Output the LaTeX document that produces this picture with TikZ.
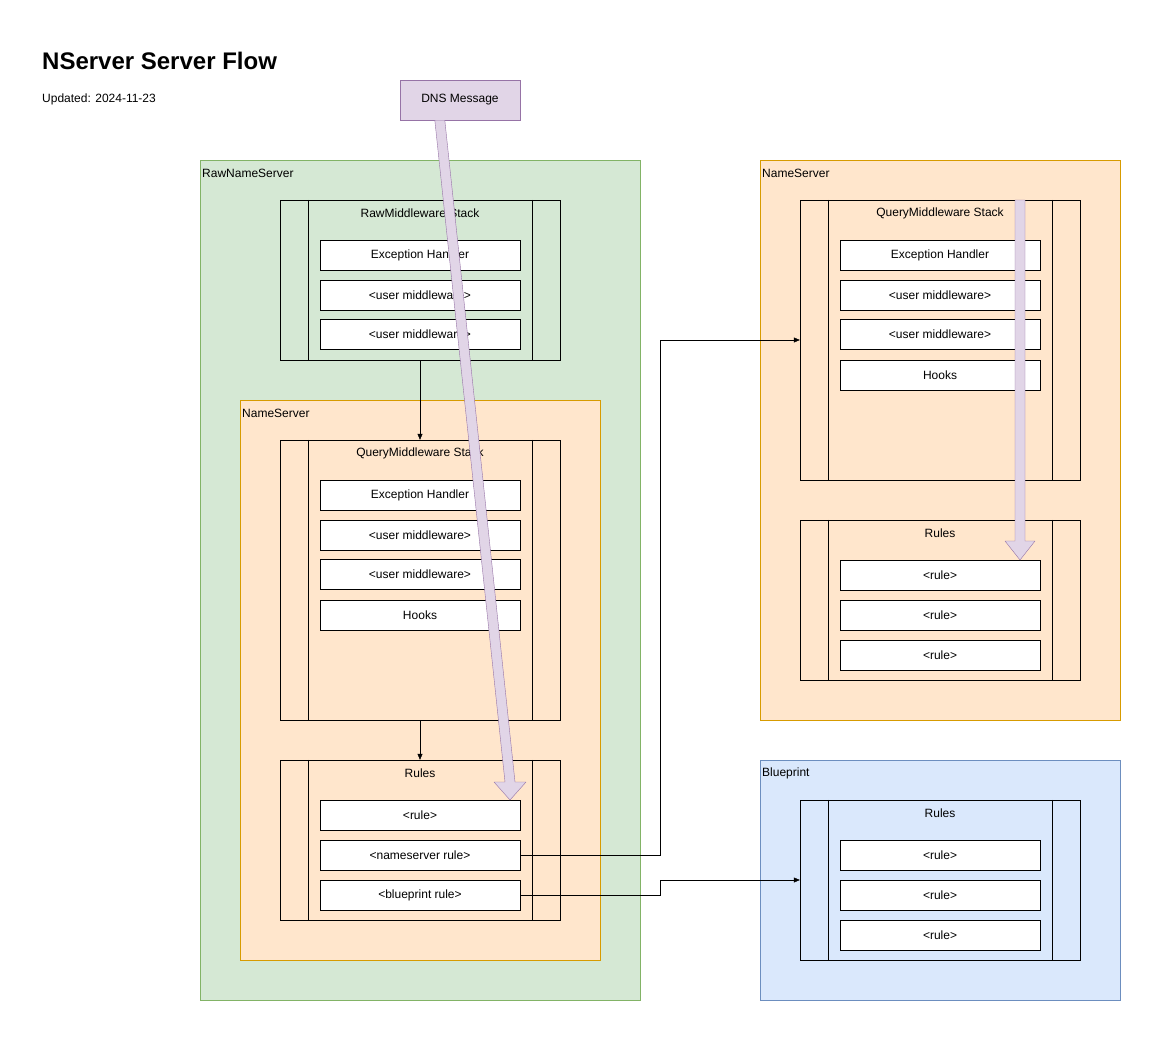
\documentclass[tikz,border=0pt]{standalone}
\usepackage{fontspec}
\setmainfont{Liberation Sans}
\usetikzlibrary{arrows.meta,positioning}
\definecolor{grnF}{HTML}{D5E8D4}\definecolor{grnS}{HTML}{82B366}
\definecolor{orgF}{HTML}{FFE6CC}\definecolor{orgS}{HTML}{D79B00}
\definecolor{bluF}{HTML}{DAE8FC}\definecolor{bluS}{HTML}{6C8EBF}
\definecolor{purF}{HTML}{E1D5E7}\definecolor{purS}{HTML}{9673A6}
\tikzset{
  box/.style={draw,fill=white,minimum width=200pt,minimum height=30pt,inner sep=0pt,font=\fontsize{12}{14}\selectfont},
  proc/.style={draw,minimum width=280pt,inner sep=0pt},
  cont/.style={draw,inner sep=0pt,minimum width=#1},
  lbl/.style={inner sep=0pt,font=\fontsize{12}{14}\selectfont},
  link/.style={-{Triangle[length=6pt,width=5pt]}},
  flow/.style={draw=purS,fill=purF,line join=round}
}
\newcommand{\procbars}[1]{\draw ([xshift=28pt]#1.north west) -- ([xshift=28pt]#1.south west)
  ([xshift=-28pt]#1.north east) -- ([xshift=-28pt]#1.south east);}
\begin{document}
\begin{tikzpicture}[x=1pt,y=-1pt]
\useasboundingbox (0,0) rectangle (1161,1041);
\node[anchor=west,inner sep=0pt,font=\fontsize{24}{28}\selectfont\bfseries] (title) at (42,61) {NServer Server Flow};
\node[lbl,anchor=west] (upd) at (42,99) {Updated: 2024-11-23};
% containers
\node[cont=440pt,minimum height=840pt,fill=grnF,draw=grnS] (raw) at (420,580) {};
\node[lbl,anchor=west] (rawT) at (202,173) {RawNameServer};
\node[cont=360pt,minimum height=560pt,fill=orgF,draw=orgS] (ns) at (420,680) {};
\node[lbl,anchor=west] (nsT) at (242,413) {NameServer};
\node[cont=360pt,minimum height=560pt,fill=orgF,draw=orgS] (ns2) at (940,440) {};
\node[lbl,anchor=west] (ns2T) at (762,173) {NameServer};
\node[cont=360pt,minimum height=240pt,fill=bluF,draw=bluS] (bp) at (940,880) {};
\node[lbl,anchor=west] (bpT) at (762,773) {Blueprint};
% stacks
\node[proc,minimum height=160pt] (rms) at (420,280) {};\procbars{rms}
\node[lbl] (rmsT) at (420,213) {RawMiddleware Stack};
\node[proc,minimum height=280pt] (qms) at (420,580) {};\procbars{qms}
\node[lbl] (qmsT) at (420,453) {QueryMiddleware Stack};
\node[proc,minimum height=160pt] (rul) at (420,840) {};\procbars{rul}
\node[lbl] (rulT) at (420,773) {Rules};
\node[proc,minimum height=280pt] (qms2) at (940,340) {};\procbars{qms2}
\node[lbl] (qms2T) at (940,213) {QueryMiddleware Stack};
\node[proc,minimum height=160pt] (rul2) at (940,600) {};\procbars{rul2}
\node[lbl] (rul2T) at (940,533) {Rules};
\node[proc,minimum height=160pt] (bprul) at (940,880) {};\procbars{bprul}
\node[lbl] (bprulT) at (940,813) {Rules};
% boxes
\node[box] (rmsA) at (420,255) {Exception Handler};
\node[box] (rmsB) at (420,295) {<user middleware>};
\node[box] (rmsC) at (420,334) {<user middleware>};
\node[box] (qmsA) at (420,495) {Exception Handler};
\node[box] (qmsB) at (420,535) {<user middleware>};
\node[box] (qmsC) at (420,574) {<user middleware>};
\node[box] (qmsD) at (420,615) {Hooks};
\node[box] (rulA) at (420,815) {<rule>};
\node[box] (rulB) at (420,855) {<nameserver rule>};
\node[box] (rulC) at (420,895) {<blueprint rule>};
\node[box] (qms2A) at (940,255) {Exception Handler};
\node[box] (qms2B) at (940,295) {<user middleware>};
\node[box] (qms2C) at (940,334) {<user middleware>};
\node[box] (qms2D) at (940,375) {Hooks};
\node[box] (rul2A) at (940,575) {<rule>};
\node[box] (rul2B) at (940,615) {<rule>};
\node[box] (rul2C) at (940,655) {<rule>};
\node[box] (bprulA) at (940,855) {<rule>};
\node[box] (bprulB) at (940,895) {<rule>};
\node[box] (bprulC) at (940,935) {<rule>};
\node[box,minimum width=120pt,minimum height=40pt,fill=purF,draw=purS] (msg) at (460,100) {DNS Message};
% links
\draw[link] (rms.south) -- (qms.north);
\draw[link] (qms.south) -- (rul.north);
\draw[link] (rulB.east) -- ++(140,0) |- (qms2.west);
\draw[link] (rulC.east) -- ++(140,0) |- (bprul.west);
% flow arrows
\draw[flow] ([xshift=35pt]msg.south west) -- ([xshift=45pt]msg.south west) -- (515,782) -- (526,782)
  -- (510,800) -- (494,782) -- (505,782) -- cycle;
\draw[flow] ([xshift=-5pt]qms2.north -| rul2.north) -- +(0,0) (1015,200) -- (1025,200) -- (1025,541) -- (1035,541)
  -- (1020,560) -- (1005,541) -- (1015,541) -- cycle;
\end{tikzpicture}
\end{document}
